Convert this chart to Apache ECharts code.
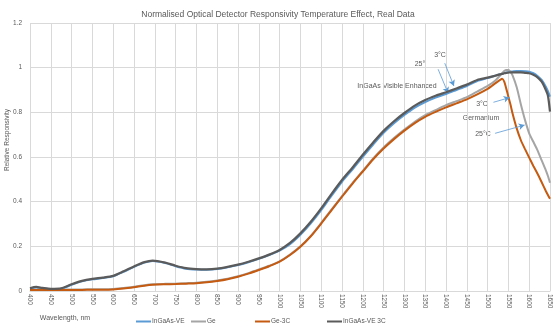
<!DOCTYPE html>
<html>
<head>
<meta charset="utf-8">
<script src="https://cdn.jsdelivr.net/npm/echarts@6/dist/echarts.min.js"></script>
<style>
  html, body { margin: 0; padding: 0; background: #fff; }
  #chart { width: 556px; height: 326px; }
</style>
</head>
<body>
<div id="chart"></div>
<script>
// Wavelength samples (nm)
const wavelength = [400, 415, 430, 450, 475, 500, 525, 550, 575, 600, 625, 650, 675, 695, 725, 750, 775, 800,
  825, 850, 875, 900, 925, 950, 975, 1000, 1025, 1050, 1075, 1100, 1125, 1150, 1175, 1200, 1225, 1250,
  1275, 1300, 1325, 1350, 1375, 1400, 1425, 1450, 1475, 1500, 1510, 1520, 1530, 1535, 1540, 1545, 1550,
  1555, 1560, 1570, 1580, 1590, 1600, 1610, 1620, 1630, 1640, 1645, 1650];

// InGaAs visible-enhanced detector, 25 °C
const ingaasVE = [0.010, 0.016, 0.012, 0.008, 0.010, 0.028, 0.043, 0.052, 0.058, 0.066, 0.086, 0.108, 0.127, 0.134,
  0.125, 0.111, 0.100, 0.096, 0.095, 0.098, 0.106, 0.116, 0.129, 0.144, 0.161, 0.181, 0.210, 0.252,
  0.303, 0.362, 0.427, 0.489, 0.544, 0.601, 0.656, 0.708, 0.751, 0.788, 0.821, 0.846, 0.866, 0.882,
  0.900, 0.918, 0.940, 0.953, 0.959, 0.965, 0.971, 0.973, 0.976, 0.978, 0.980, 0.982, 0.983, 0.985,
  0.985, 0.984, 0.982, 0.975, 0.963, 0.945, 0.915, 0.895, 0.870];

// Germanium detector, 25 °C
const ge = [0.006, 0.006, 0.006, 0.006, 0.006, 0.007, 0.007, 0.008, 0.008, 0.009, 0.013, 0.019, 0.026, 0.030,
  0.032, 0.033, 0.035, 0.037, 0.041, 0.047, 0.055, 0.066, 0.080, 0.096, 0.113, 0.133, 0.163, 0.200,
  0.247, 0.305, 0.365, 0.425, 0.483, 0.538, 0.594, 0.643, 0.685, 0.723, 0.758, 0.787, 0.810, 0.832,
  0.850, 0.868, 0.893, 0.918, 0.930, 0.945, 0.965, 0.975, 0.985, 0.990, 0.990, 0.982, 0.965, 0.912,
  0.835, 0.765, 0.706, 0.668, 0.630, 0.585, 0.540, 0.515, 0.485];

// Germanium detector, 3 °C
const ge3C = [0.004, 0.004, 0.004, 0.004, 0.004, 0.005, 0.005, 0.006, 0.006, 0.007, 0.011, 0.017, 0.024, 0.028,
  0.030, 0.031, 0.033, 0.035, 0.039, 0.045, 0.053, 0.064, 0.078, 0.094, 0.111, 0.131, 0.161, 0.198,
  0.245, 0.302, 0.362, 0.422, 0.480, 0.535, 0.590, 0.638, 0.680, 0.718, 0.752, 0.780, 0.802, 0.822,
  0.840, 0.858, 0.880, 0.905, 0.918, 0.932, 0.945, 0.950, 0.937, 0.905, 0.870, 0.835, 0.795, 0.728,
  0.675, 0.635, 0.597, 0.560, 0.525, 0.487, 0.448, 0.430, 0.413];

// InGaAs visible-enhanced detector, 3 °C
const ingaasVE3C = [0.012, 0.018, 0.014, 0.010, 0.012, 0.030, 0.045, 0.054, 0.060, 0.068, 0.088, 0.110, 0.129, 0.136,
  0.127, 0.113, 0.102, 0.098, 0.097, 0.100, 0.108, 0.118, 0.131, 0.146, 0.163, 0.184, 0.215, 0.258,
  0.310, 0.370, 0.435, 0.497, 0.552, 0.610, 0.665, 0.717, 0.760, 0.797, 0.830, 0.855, 0.874, 0.890,
  0.907, 0.924, 0.945, 0.955, 0.960, 0.965, 0.970, 0.972, 0.975, 0.977, 0.978, 0.979, 0.979, 0.979,
  0.979, 0.977, 0.975, 0.968, 0.957, 0.937, 0.900, 0.875, 0.803];

const seriesNames = ['InGaAs-VE', 'Ge', 'Ge-3C', 'InGaAs-VE 3C'];
const seriesColors = ['#5B9BD5', '#A5A5A5', '#C55A11', '#5B5B5B'];
const seriesValues = [ingaasVE, ge, ge3C, ingaasVE3C];

// Callout arrows, in wavelength / responsivity units
const arrows = [
  [[1381, 0.993], [1405, 0.886]],
  [[1397, 1.020], [1419, 0.918]],
  [[1514, 0.845], [1553, 0.866]],
  [[1518, 0.706], [1589, 0.743]]
];

const FONT = '"Liberation Sans", Arial, sans-serif';
const TXT = '#595959';

const chart = echarts.init(document.getElementById('chart'), null, { renderer: 'canvas' });

const series = seriesNames.map((name, i) => ({
  name,
  type: 'line',
  data: wavelength.map((w, j) => [w, seriesValues[i][j]]),
  showSymbol: false,
  smooth: 0.25,
  lineStyle: { color: seriesColors[i], width: i === 3 ? 2.25 : 2 },
  itemStyle: { color: seriesColors[i] },
  animation: false,
  z: 2 + i
}));

series[0].markLine = {
  silent: true,
  symbol: ['none', 'arrow'],
  symbolSize: [5, 6],
  label: { show: false },
  lineStyle: { color: '#5B9BD5', width: 0.8, type: 'solid' },
  data: arrows.map(a => [{ coord: a[0] }, { coord: a[1] }])
};

const legendLefts = [131, 186, 250, 322];
const legends = seriesNames.map((name, i) => ({
  data: [name],
  left: legendLefts[i],
  top: 313,
  icon: 'rect',
  itemWidth: 15,
  itemHeight: 2,
  itemGap: 2,
  textStyle: { fontFamily: FONT, fontSize: 6.5, color: TXT, padding: [0, 0, 0, -4] }
}));

const annText = (text, x, y) => ({
  type: 'text', x, y,
  style: { text, fill: TXT, font: '7px ' + FONT, textAlign: 'center', textVerticalAlign: 'middle' }
});

chart.setOption({
  backgroundColor: '#ffffff',
  animation: false,
  title: {
    text: 'Normalised Optical Detector Responsivity Temperature Effect, Real Data',
    left: 'center',
    top: 5,
    textStyle: { fontFamily: FONT, fontSize: 8.5, fontWeight: 'normal', color: TXT }
  },
  grid: { left: 30, right: 6, top: 23, bottom: 35, containLabel: false },
  legend: legends,
  xAxis: {
    type: 'value',
    min: 400, max: 1650, interval: 50,
    axisLine: { show: true, lineStyle: { color: '#D9D9D9', width: 1 } },
    axisTick: { show: false },
    axisLabel: {
      rotate: -90, fontSize: 6.5, fontFamily: FONT, color: TXT, margin: 3,
      formatter: v => String(v)
    },
    splitLine: { show: true, lineStyle: { color: '#D9D9D9', width: 1 } }
  },
  yAxis: {
    type: 'value',
    min: 0, max: 1.2, interval: 0.2,
    axisLine: { show: false },
    axisTick: { show: false },
    axisLabel: {
      fontSize: 6.5, fontFamily: FONT, color: TXT, margin: 8,
      formatter: v => String(+v.toFixed(1))
    },
    splitLine: { show: true, lineStyle: { color: '#D9D9D9', width: 1 } }
  },
  graphic: [
    {
      type: 'text', x: 7, y: 140, rotation: Math.PI / 2,
      style: { text: 'Relative Responsivity', fill: TXT, font: '6.5px ' + FONT, textAlign: 'center', textVerticalAlign: 'middle' }
    },
    {
      type: 'text', x: 65, y: 318,
      style: { text: 'Wavelength, nm', fill: TXT, font: '7px ' + FONT, textAlign: 'center', textVerticalAlign: 'middle' }
    },
    annText('3°C', 440, 55),
    annText('25°', 420, 64),
    annText('InGaAs Visible Enhanced', 397, 86),
    annText('3°C', 482, 104),
    annText('Germanium', 481, 118),
    annText('25°C', 483, 134)
  ],
  series
});
</script>
</body>
</html>
